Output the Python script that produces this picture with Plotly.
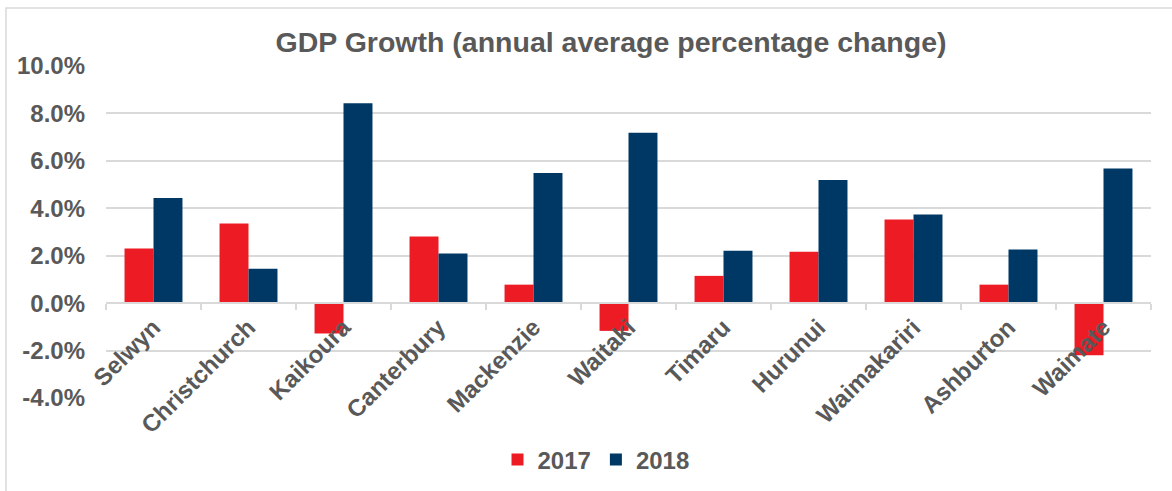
import plotly.graph_objects as go

categories = ["Selwyn", "Christchurch", "Kaikoura", "Canterbury", "Mackenzie", "Waitaki",
              "Timaru", "Hurunui", "Waimakariri", "Ashburton", "Waimate"]
growth_2017 = [2.3, 3.36, -1.28, 2.81, 0.78, -1.17, 1.15, 2.17, 3.53, 0.78, -2.2]
growth_2018 = [4.43, 1.45, 8.43, 2.09, 5.49, 7.19, 2.21, 5.19, 3.74, 2.26, 5.68]
y_ticks = [-4, -2, 0, 2, 4, 6, 8, 10]
y_tick_labels = [f"{v:.1f}%" for v in y_ticks]

RED = "#ED1C24"
NAVY = "#003865"
GRAY = "#595959"
FONT = "Liberation Sans, Arial, sans-serif"

fig = go.Figure()
fig.add_trace(go.Bar(x=categories, y=growth_2017, name="<b>2017</b>", marker_color=RED,
                     marker_line_width=0))
fig.add_trace(go.Bar(x=categories, y=growth_2018, name="<b>2018</b>", marker_color=NAVY,
                     marker_line_width=0))

W, H = 1172, 491
L, R, T, B = 106, 21, 66, 93
plot_h = H - T - B
plot_w = W - L - R

fig.update_layout(
    width=W, height=H,
    margin=dict(l=L, r=R, t=T, b=B, autoexpand=False),
    paper_bgcolor="white", plot_bgcolor="white",
    barmode="group", bargap=0.39, bargroupgap=0,
    font=dict(family=FONT, color=GRAY, size=24),
    title=dict(text="<b>GDP Growth (annual average percentage change)</b>",
               x=611 / W, xanchor="center", xref="container",
               y=1 - 42 / H, yanchor="middle", yref="container",
               font=dict(size=28.5, color=GRAY, family=FONT)),
    showlegend=True,
    legend=dict(orientation="h", x=(596 - L) / plot_w, xanchor="center",
                y=(plot_h - (460 - T)) / plot_h, yanchor="middle",
                font=dict(size=24, color=GRAY, family=FONT),
                traceorder="normal", itemwidth=30),
    xaxis=dict(
        anchor="free", position=4 / 14, automargin=False,
        showline=True, linecolor="#d9d9d9", linewidth=1.5,
        ticks="outside", tickson="boundaries", ticklen=6, tickcolor="#d9d9d9", tickwidth=1.5,
        tickangle=-45, tickfont=dict(size=24, color=GRAY, family=FONT),
        tickprefix="<b>", ticksuffix="</b>",
        showgrid=False,
    ),
    yaxis=dict(
        range=[-4, 10], tickvals=y_ticks,
        ticktext=[f"<b>{t}</b>" for t in y_tick_labels], automargin=False,
        showgrid=True, gridcolor="#d9d9d9", gridwidth=1.5,
        zeroline=False, showline=False,
        tickfont=dict(size=24, color=GRAY, family=FONT),
        ticklabelstandoff=20,
    ),
)

# outer chart frame (cropped at right and bottom)
fig.add_shape(type="rect", xref="paper", yref="paper",
              x0=(6 - L) / plot_w, x1=(W + 10 - L) / plot_w,
              y0=(plot_h - (H + 10 - T)) / plot_h, y1=(plot_h - (8 - T)) / plot_h,
              line=dict(color="#d9d9d9", width=1.5), fillcolor="rgba(0,0,0,0)", layer="below")

fig.write_html("out.html", config={"displayModeBar": False},
               post_script="document.body.style.margin='0';document.body.style.overflow='hidden';")
